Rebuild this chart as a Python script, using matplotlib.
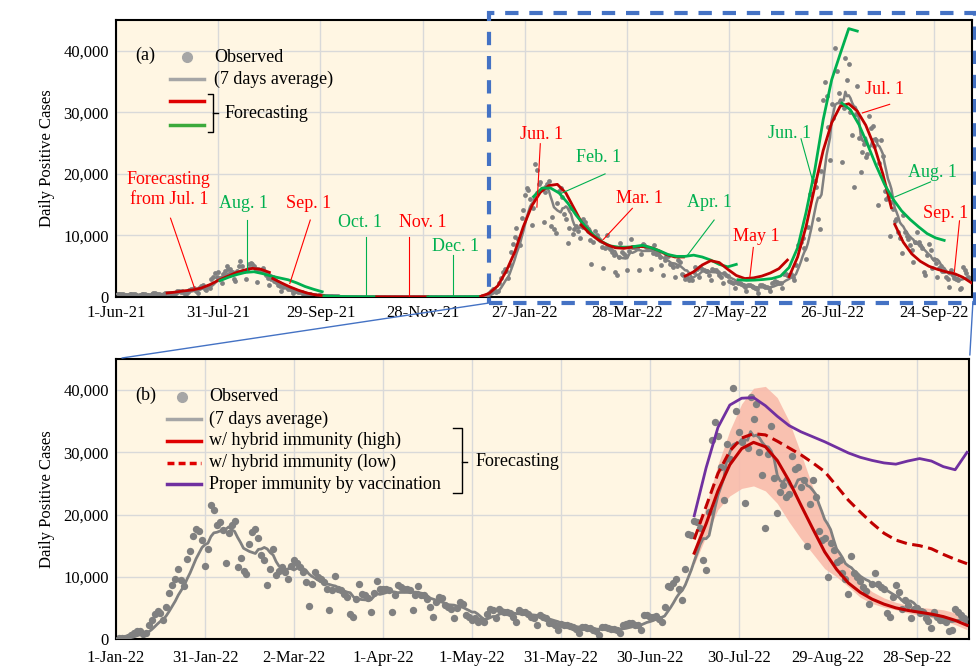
import matplotlib
matplotlib.use('Agg')
import matplotlib.pyplot as plt
from matplotlib.patches import Rectangle, ConnectionPatch
import numpy as np
import pandas as pd

plt.rcParams['font.family'] = ['Liberation Serif', 'DejaVu Serif']

# --- observed daily positive cases ---
jun21 = [471, 487, 508, 472, 436, 351, 235, 369, 440, 439, 435, 467, 304, 209, 337,
         501, 452, 453, 388, 376, 236, 435, 619, 570, 562, 534, 386, 317, 476, 714]
jul21 = [673, 660, 716, 518, 342, 593, 920, 896, 822, 950, 614, 502, 830, 1149, 1308,
         1271, 1410, 1008, 727, 1387, 1832, 1979, 1359, 1128, 1763, 1429, 2848, 3177,
         3865, 3300, 4058]
aug21 = [3058, 2195, 3709, 4166, 5042, 4515, 4566, 4066, 2884, 2612, 4200, 4989, 5908,
         5094, 4295, 2962, 4377, 5386, 5534, 5405, 5074, 4392, 2447, 4220, 4228, 4704,
         4227, 3581, 3081, 1915, 2909]
sep21 = [3168, 2539, 2362, 2003, 1853, 968, 1629, 1834, 1675, 1242, 1273, 1067, 611,
         1004, 1052, 831, 782, 862, 547, 302, 253, 537, 531, 235, 382, 263, 154, 248,
         267, 218]
oct21 = [200, 196, 161, 87, 149, 144, 138, 82, 82, 60, 49, 77, 72, 62, 57, 66, 40, 29,
         36, 41, 36, 26, 32, 19, 17, 29, 36, 21, 26, 23, 22]
nov21 = [9, 18, 29, 17, 23, 24, 22, 18, 17, 25, 31, 26, 21, 16, 7, 18, 21, 24, 17, 22,
         9, 15, 10, 21, 20, 11, 19, 15, 9, 13]
dec21 = [15, 12, 20, 24, 16, 13, 19, 29, 18, 16, 15, 21, 11, 28, 16, 20, 21, 25, 20, 14,
         32, 33, 31, 40, 37, 31, 28, 46, 76, 64, 78]
jan22 = [79, 84, 103, 151, 390, 641, 922, 1224, 1223, 871, 962, 2198, 3124, 4051, 4561,
         4172, 3078, 5185, 7377, 8638, 9699, 11227, 9468, 8503, 12813, 14086, 16538,
         17631, 17433, 15895, 11751]
feb22 = [14445, 21576, 20679, 18287, 18731, 17526, 12214, 17113, 18287, 18891, 11600,
         13000, 11000, 10400, 15300, 17200, 17700, 16200, 13500, 12700, 8700, 11200,
         14500, 10300, 11000, 11500, 10800, 9600]
mar22 = [11700, 12700, 12200, 11500, 10800, 9200, 5300, 8900, 10800, 10000, 9600, 9200,
         8100, 4700, 7900, 10100, 8100, 7800, 7300, 6800, 4000, 3600, 6500, 8800, 7300,
         7000, 6600, 4400, 7400, 9400, 8100]
apr22 = [8100, 8000, 7900, 4400, 7000, 8600, 8400, 8100, 8000, 7900, 4600, 7100, 8500,
         7000, 7000, 6500, 5200, 3500, 6000, 6700, 6600, 5400, 5200, 4900, 3300, 5000,
         6000, 5700, 3800, 3500]
may22 = [3000, 3300, 2800, 3000, 2800, 4000, 4800, 4600, 3300, 4900, 4500, 4400, 4300,
         4200, 3600, 2700, 4600, 4400, 4400, 4000, 3600, 3300, 2300, 3850, 3600, 3400,
         2600, 2500, 2300, 1400, 2400]
jun22 = [2300, 2200, 2100, 2000, 1600, 900, 2000, 1900, 1800, 1700, 1500, 1300, 700,
         2000, 1900, 1800, 1600, 1600, 1400, 900, 2300, 2400, 2600, 2500, 2300, 2200,
         1400, 3800, 3800, 3500]
jul22 = [3600, 3700, 3200, 2800, 5200, 8500, 8300, 9000, 9600, 8000, 6200, 11300, 16800,
         16700, 18900, 18800, 17800, 12700, 11100, 20400, 32000, 34900, 32700, 27600,
         22300, 31400, 29000, 40400, 36700, 33200, 31600]
aug22 = [21900, 30700, 38900, 35300, 37800, 30000, 26300, 17900, 29800, 34200, 25800,
         20300, 23600, 24800, 22800, 23300, 29400, 27400, 27700, 24500, 25500, 15000,
         21700, 25500, 22900, 17300, 15900, 16200, 9900, 15400, 14300]
sep22 = [12400, 12700, 10600, 9600, 7200, 13400, 10600, 9900, 9400, 8400, 7700, 5700,
         8900, 10600, 8900, 8400, 8000, 4100, 3600, 6800, 8600, 7600, 4750, 6250, 5450,
         3300, 4750, 4970, 4170, 4300]
oct22 = [3300, 2900, 1700, 4400, 3600, 3100, 3000, 2800, 1300, 1500, 4900, 4400, 3900,
         3300, 3100]

observed = (jun21 + jul21 + aug21 + sep21 + oct21 + nov21 + dec21 + jan22 + feb22 +
            mar22 + apr22 + may22 + jun22 + jul22 + aug22 + sep22 + oct22)
obs = pd.Series(observed, index=pd.date_range('2021-06-01', periods=len(observed)),
                dtype=float)
avg7 = obs.rolling(7, min_periods=1).mean()

# --- (a) monthly forecasts, one value every 5 days from the start date ---
a_step = 5
fa_jul21 = [650, 800, 1000, 1150, 1450, 2000, 2700, 3300, 3900, 4350, 4650, 4500, 4000]
fa_aug21 = [2650, 3200, 3650, 4000, 4100, 3800, 3400, 3100, 2800, 2300, 1700, 1250, 850]
fa_sep21 = [3000, 2300, 1650, 1100, 650, 350, 200]
fa_oct21 = [180, 120, 80, 55, 40, 30, 28]
fa_nov21 = [28, 25, 24, 23, 23, 24, 25]
fa_dec21 = [25, 24, 24, 26, 30, 40, 60]
fa_jan22 = [100, 600, 1800, 4200, 7300, 11400, 14800, 17000, 18100, 18300, 16900, 14300, 11700]
fa_feb22 = [16300, 17700, 17700, 16900, 15300, 13300, 11600, 10100, 9000, 8300, 8100, 8100, 8200]
fa_mar22 = [11700, 10300, 9300, 8500, 8000, 7900, 8100, 8200, 8100, 7600, 6900, 6500, 6500]
fa_apr22 = [8200, 8400, 8000, 7500, 6900, 6600, 6600, 6800, 6500, 6000, 5300, 4900, 5300]
fa_may22 = [3400, 4100, 5200, 5900, 5600, 4500, 3500, 3000, 3100, 3400, 3900, 4600, 6000]
fa_jun22 = [2800, 2700, 2750, 2850, 3000, 3400, 4800, 8000, 13800, 20500, 28800, 35300,
            39500, 43600, 43200]
fa_jul22 = [3300, 6500, 11500, 17800, 23800, 28300, 31000, 31400, 30200, 27900, 24500,
            20000, 14500]
fa_aug22 = [31500, 30400, 28000, 24800, 21400, 18300, 15900, 14000, 12600, 11400, 10300,
            9600, 9200]
fa_sep22 = [11800, 8900, 7000, 5800, 5000, 4500, 4100, 3800, 3200, 2300]

RED = '#C00000'
GREEN = '#00B050'
RED_T = '#FF0000'
GRAY = '#808080'
PURPLE = '#7030A0'
BG = '#FFF6E3'

forecasts_a = [('2021-07-01', RED, fa_jul21), ('2021-08-01', GREEN, fa_aug21),
               ('2021-09-01', RED, fa_sep21), ('2021-10-01', GREEN, fa_oct21),
               ('2021-11-01', RED, fa_nov21), ('2021-12-01', GREEN, fa_dec21),
               ('2022-01-01', RED, fa_jan22), ('2022-02-01', GREEN, fa_feb22),
               ('2022-03-01', RED, fa_mar22), ('2022-04-01', GREEN, fa_apr22),
               ('2022-05-01', RED, fa_may22), ('2022-06-01', GREEN, fa_jun22),
               ('2022-07-01', RED, fa_jul22), ('2022-08-01', GREEN, fa_aug22),
               ('2022-09-01', RED, fa_sep22)]

# text, colour, text position, leader line start, leader line end
notes_a = [
    ('Forecasting\nfrom Jul. 1', RED_T, ('2021-07-02', 17500), ('2021-07-03', 12800), ('2021-07-17', 1500)),
    ('Aug. 1', GREEN, ('2021-08-15', 15200), ('2021-08-17', 12500), ('2021-08-17', 4000)),
    ('Sep. 1', RED_T, ('2021-09-22', 15200), ('2021-09-23', 12500), ('2021-09-11', 2200)),
    ('Oct. 1', GREEN, ('2021-10-22', 12150), ('2021-10-26', 9700), ('2021-10-26', 200)),
    ('Nov. 1', RED_T, ('2021-11-28', 12150), ('2021-11-20', 9700), ('2021-11-20', 150)),
    ('Dec. 1', GREEN, ('2021-12-17', 8150), ('2021-12-16', 6800), ('2021-12-16', 150)),
    ('Jun. 1', RED_T, ('2022-02-06', 26400), ('2022-02-05', 24900), ('2022-02-03', 14600)),
    ('Feb. 1', GREEN, ('2022-03-11', 22700), ('2022-03-15', 20000), ('2022-02-17', 16800)),
    ('Mar. 1', RED_T, ('2022-04-04', 16000), ('2022-03-31', 14400), ('2022-03-14', 9350)),
    ('Apr. 1', GREEN, ('2022-05-15', 15300), ('2022-05-18', 12500), ('2022-05-02', 6650)),
    ('May 1', RED_T, ('2022-06-12', 9770), ('2022-06-10', 8050), ('2022-06-08', 3300)),
    ('Jun. 1', GREEN, ('2022-07-01', 26600), ('2022-07-08', 25700), ('2022-07-15', 18700)),
    ('Jul. 1', RED_T, ('2022-08-26', 33700), ('2022-08-29', 31300), ('2022-08-13', 29900)),
    ('Aug. 1', GREEN, ('2022-09-23', 20150), ('2022-09-22', 18700), ('2022-09-01', 16250)),
    ('Sep. 1', RED_T, ('2022-10-01', 13570), ('2022-10-09', 12370), ('2022-10-06', 4100)),
]

# --- (b) scenario forecasts from 15 Jul 2022, one value every 4 days ---
b_start = '2022-07-15'
b_step = 4
fb_high = [13800, 18500, 23800, 28000, 30600, 31600, 30900, 28700, 25400, 21500, 17700,
           14000, 11200, 9000, 7500, 6400, 5600, 5000, 4600, 4300, 4000, 3600, 3000, 2200]
fb_low = [16000, 21300, 26600, 30200, 32300, 33000, 32800, 31800, 30700, 29600, 28300,
          26900, 24600, 22300, 20400, 18600, 17000, 15900, 15300, 15000, 14500, 13600,
          12800, 12100]
fb_vacc = [19800, 27500, 34000, 37600, 38700, 38800, 37500, 35800, 34300, 33300, 32500,
           31700, 30800, 29900, 29200, 28700, 28300, 28100, 28600, 29000, 28600, 27700,
           27200, 30000]
fb_upper = [14500, 21500, 28000, 33500, 37800, 40300, 40600, 38800, 35000, 29800, 24400,
            19500, 14800, 11500, 9200, 7600, 6600, 5900, 5400, 5100, 4900, 4700, 4200, 3400]
fb_lower = [12000, 16500, 20800, 23000, 24200, 24600, 23800, 21800, 18800, 16100, 13700,
            11300, 10000, 8400, 6700, 5700, 5100, 4700, 4200, 3800, 3400, 3000, 2300, 1500]

a_ticks = pd.date_range('2021-06-01', periods=9, freq='60D')
b_ticks = pd.date_range('2022-01-01', periods=10, freq='30D')
y_ticks = [0, 10000, 20000, 30000, 40000]


def fc_dates(start, n, step):
    return pd.Timestamp(start) + pd.to_timedelta(np.arange(n) * step, unit='D')


def style_axes(ax, ticks, xmin, xmax):
    ax.set_facecolor(BG)
    ax.set_xlim(pd.Timestamp(xmin), pd.Timestamp(xmax))
    ax.set_ylim(0, 45000)
    ax.set_xticks(ticks)
    ax.set_xticklabels([f"{d.day}-{d:%b-%y}" for d in ticks])
    ax.set_yticks(y_ticks)
    ax.set_yticklabels([f"{v:,}" for v in y_ticks])
    ax.grid(True, color='#D9D9D9', lw=1)
    ax.set_axisbelow(True)
    ax.tick_params(length=0, labelsize=12, pad=6)
    ax.tick_params(axis='y', pad=5)
    for s in ax.spines.values():
        s.set_linewidth(1.5)
    ax.set_ylabel('Daily Positive Cases', fontsize=12, labelpad=6)


fig = plt.figure(figsize=(9.76, 6.71), dpi=100)
ax_a = fig.add_axes([116 / 976, 1 - 297 / 671, 856 / 976, 277 / 671])
ax_b = fig.add_axes([116 / 976, 1 - 639 / 671, 853 / 976, 280 / 671])

# ---------------- (a) ----------------
style_axes(ax_a, a_ticks, '2021-06-01', '2022-10-16 08:00')
ax_a.scatter(obs.index, obs.values, s=12, color=GRAY, lw=0, zorder=2)
ax_a.plot(avg7.index, avg7.values, color=GRAY, lw=1.8, zorder=3)
for start, col, vals in forecasts_a:
    ax_a.plot(fc_dates(start, len(vals), a_step), vals, color=col, lw=2, zorder=4)
for txt, col, tpos, p0, p1 in notes_a:
    ax_a.text(pd.Timestamp(tpos[0]), tpos[1], txt, color=col, fontsize=13,
              ha='center', va='center', zorder=6)
    ax_a.plot([pd.Timestamp(p0[0]), pd.Timestamp(p1[0])], [p0[1], p1[1]],
              color=col, lw=0.8, zorder=5)

# legend (a)
T = ax_a.transAxes
ax_a.text(0.023, 0.874, '(a)', transform=T, fontsize=13, va='center')
ax_a.plot([0.083], [0.866], 'o', ms=7, color='#A6A6A6', transform=T)
ax_a.text(0.1145, 0.866, 'Observed', transform=T, fontsize=13, va='center')
ax_a.plot([0.063, 0.103], [0.787, 0.787], color='#A6A6A6', lw=2.5, transform=T)
ax_a.text(0.1145, 0.787, '(7 days average)', transform=T, fontsize=13, va='center')
ax_a.plot([0.063, 0.103], [0.708, 0.708], color='#E00000', lw=2.5, transform=T)
ax_a.plot([0.063, 0.103], [0.621, 0.621], color='#3CAA3C', lw=2.5, transform=T)
ax_a.plot([0.1075, 0.1133, 0.1133, 0.1075], [0.733, 0.733, 0.596, 0.596],
          color='black', lw=1, transform=T)
ax_a.plot([0.1133, 0.119], [0.664, 0.664], color='black', lw=1, transform=T)
ax_a.text(0.1262, 0.664, 'Forecasting', transform=T, fontsize=13, va='center')

# zoom box
ax_a.add_patch(Rectangle((0.4357, -0.0217), 0.5678, 1.0467, transform=T, fill=False,
                         edgecolor='#4472C4', lw=3, linestyle=(0, (3.2, 2.6)),
                         clip_on=False, zorder=10))

# ---------------- (b) ----------------
style_axes(ax_b, b_ticks, '2022-01-01', '2022-10-15 16:00')
ax_b.tick_params(axis='x', pad=8)
ob = obs['2022-01-01':]
av = avg7['2022-01-01':]
bd = fc_dates(b_start, len(fb_high), b_step)
ax_b.fill_between(bd, fb_lower, fb_upper, color='#F9B8A8', alpha=0.85, lw=0, zorder=1)
ax_b.scatter(ob.index, ob.values, s=28, color=GRAY, lw=0, zorder=2)
ax_b.plot(av.index, av.values, color=GRAY, lw=2, zorder=3)
ax_b.plot(bd, fb_vacc, color=PURPLE, lw=2, zorder=4)
ax_b.plot(bd, fb_low, color=RED, lw=2.2, ls=(0, (3.5, 1.8)), zorder=4)
ax_b.plot(bd, fb_high, color=RED, lw=2.2, zorder=4)

T = ax_b.transAxes
ax_b.text(0.0223, 0.871, '(b)', transform=T, fontsize=13, va='center')
ax_b.plot([0.0778], [0.866], 'o', ms=7, color='#A6A6A6', transform=T)
legend_b = [(0.866, None, None, 'Observed'),
            (0.786, '#A6A6A6', '-', '(7 days average)'),
            (0.708, '#E00000', '-', 'w/ hybrid immunity (high)'),
            (0.630, '#E00000', (0, (2, 1.2)), 'w/ hybrid immunity (low)'),
            (0.5525, PURPLE, '-', 'Proper immunity by vaccination')]
for y, col, ls, lab in legend_b:
    if col is not None:
        ax_b.plot([0.0594, 0.0993], [y, y], color=col, ls=ls, lw=2.5, transform=T)
    ax_b.text(0.1094, y, lab, transform=T, fontsize=13, va='center')
ax_b.plot([0.395, 0.4056, 0.4056, 0.395], [0.7546, 0.7546, 0.520, 0.520],
          color='black', lw=1, transform=T)
ax_b.plot([0.4056, 0.4115], [0.633, 0.633], color='black', lw=1, transform=T)
ax_b.text(0.4209, 0.633, 'Forecasting', transform=T, fontsize=13, va='center')

# lines joining the zoom box to panel (b)
for pa, pb in [((0.4357, -0.0217), (0.007, 1.0036)), ((1.001, -0.0217), (1.001, 1.014))]:
    fig.add_artist(ConnectionPatch(pa, pb, coordsA=ax_a.transAxes, coordsB=ax_b.transAxes,
                                   color='#4472C4', lw=1))

fig.savefig('out.png', dpi=100)
